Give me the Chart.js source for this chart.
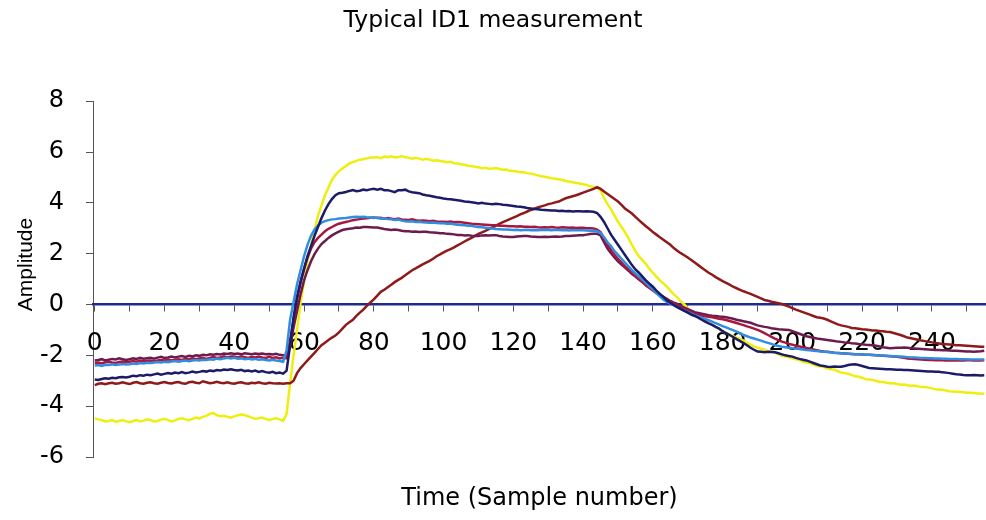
<!DOCTYPE html>
<html><head><meta charset="utf-8">
<script src="https://cdn.jsdelivr.net/npm/chart.js@4/dist/chart.umd.min.js"></script>
<style>html,body{margin:0;padding:0;background:#fff;}#wrap{width:986px;height:520px;}</style>
</head><body><div id="wrap"><canvas id="c" width="986" height="520"></canvas></div>
<script>
// Sample numbers (categories)
const samples = Array.from({length: 256}, (_, i) => i);
const xTickLabels = ["0","20","40","60","80","100","120","140","160","180","200","220","240"];
const yTicks = [-6,-4,-2,0,2,4,6,8];

const yellow = [
-4.48,-4.52,-4.55,-4.6,-4.58,-4.55,-4.62,-4.58,-4.55,-4.6,-4.63,-4.58,-4.55,-4.6,-4.57,-4.52,
-4.55,-4.6,-4.58,-4.53,-4.5,-4.55,-4.6,-4.56,-4.5,-4.48,-4.52,-4.55,-4.5,-4.45,-4.48,-4.42,
-4.38,-4.3,-4.27,-4.35,-4.4,-4.38,-4.42,-4.45,-4.4,-4.36,-4.33,-4.35,-4.4,-4.45,-4.5,-4.47,
-4.45,-4.5,-4.55,-4.5,-4.48,-4.52,-4.58,-4.3,-3.1,-2.0,-1.0,0.05,0.9,1.7,2.3,2.9,
3.5,3.9,4.3,4.6,4.9,5.1,5.25,5.35,5.45,5.55,5.6,5.65,5.7,5.72,5.75,5.78,
5.78,5.8,5.76,5.82,5.8,5.83,5.79,5.8,5.84,5.79,5.78,5.74,5.77,5.74,5.7,5.73,
5.7,5.66,5.68,5.65,5.63,5.6,5.62,5.56,5.55,5.52,5.5,5.46,5.45,5.42,5.4,5.36,
5.38,5.34,5.35,5.37,5.33,5.3,5.31,5.26,5.25,5.23,5.2,5.2,5.17,5.15,5.12,5.08,
5.05,5.03,5.0,4.97,4.95,4.93,4.9,4.86,4.84,4.81,4.78,4.76,4.73,4.7,4.66,4.62,
4.58,4.5,4.2,3.95,3.75,3.5,3.25,3.05,2.85,2.6,2.35,2.1,1.9,1.75,1.6,1.4,
1.25,1.1,0.95,0.83,0.7,0.55,0.4,0.28,0.12,0.0,-0.15,-0.3,-0.4,-0.5,-0.58,-0.66,
-0.72,-0.8,-0.88,-0.96,-1.05,-1.12,-1.18,-1.24,-1.3,-1.35,-1.42,-1.5,-1.58,-1.65,-1.7,-1.74,
-1.78,-1.84,-1.86,-1.88,-1.95,-2.02,-2.05,-2.08,-2.12,-2.15,-2.18,-2.25,-2.28,-2.3,-2.36,-2.42,
-2.43,-2.45,-2.52,-2.55,-2.56,-2.62,-2.68,-2.7,-2.72,-2.78,-2.82,-2.84,-2.88,-2.94,-2.95,-2.97,
-3.0,-3.05,-3.05,-3.08,-3.1,-3.1,-3.13,-3.16,-3.15,-3.18,-3.2,-3.19,-3.22,-3.25,-3.25,-3.27,
-3.3,-3.33,-3.34,-3.35,-3.38,-3.41,-3.42,-3.43,-3.43,-3.45,-3.47,-3.47,-3.48,-3.5,-3.5,-3.51
];

const navy = [
-2.95,-2.97,-2.93,-2.9,-2.92,-2.88,-2.9,-2.86,-2.85,-2.87,-2.84,-2.8,-2.82,-2.78,-2.8,-2.76,
-2.78,-2.75,-2.72,-2.76,-2.73,-2.7,-2.72,-2.68,-2.7,-2.66,-2.7,-2.68,-2.64,-2.67,-2.65,-2.62,
-2.64,-2.6,-2.62,-2.58,-2.6,-2.56,-2.58,-2.55,-2.58,-2.6,-2.57,-2.62,-2.6,-2.63,-2.6,-2.65,
-2.62,-2.66,-2.68,-2.65,-2.7,-2.68,-2.72,-2.6,-1.6,-0.5,0.3,0.9,1.4,1.9,2.3,2.7,
3.05,3.4,3.7,3.95,4.15,4.3,4.38,4.4,4.43,4.47,4.5,4.46,4.48,4.52,4.5,4.53,
4.55,4.52,4.55,4.5,4.5,4.46,4.42,4.5,4.5,4.52,4.45,4.42,4.4,4.38,4.33,4.3,
4.28,4.25,4.22,4.2,4.17,4.15,4.14,4.12,4.1,4.08,4.05,4.04,4.02,4.0,3.98,4.0,
3.97,3.96,3.95,3.96,3.95,3.93,3.92,3.9,3.88,3.86,3.85,3.83,3.8,3.78,3.76,3.75,
3.73,3.72,3.71,3.7,3.7,3.68,3.69,3.67,3.68,3.66,3.67,3.67,3.66,3.67,3.66,3.65,
3.6,3.45,3.25,3.0,2.75,2.55,2.35,2.15,1.95,1.75,1.55,1.38,1.25,1.1,0.95,0.82,
0.7,0.55,0.42,0.3,0.17,0.07,-0.02,-0.1,-0.17,-0.25,-0.32,-0.4,-0.45,-0.52,-0.6,-0.67,
-0.74,-0.8,-0.88,-0.95,-1.05,-1.13,-1.2,-1.28,-1.36,-1.44,-1.52,-1.6,-1.7,-1.78,-1.85,-1.86,
-1.88,-1.86,-1.87,-1.88,-1.92,-1.96,-2.0,-2.03,-2.05,-2.1,-2.14,-2.17,-2.2,-2.25,-2.3,-2.35,
-2.4,-2.42,-2.45,-2.46,-2.44,-2.45,-2.45,-2.42,-2.38,-2.36,-2.35,-2.38,-2.42,-2.46,-2.5,-2.51,
-2.52,-2.53,-2.54,-2.55,-2.55,-2.56,-2.57,-2.57,-2.58,-2.58,-2.59,-2.6,-2.61,-2.62,-2.63,-2.64,
-2.64,-2.65,-2.65,-2.67,-2.68,-2.7,-2.72,-2.74,-2.75,-2.77,-2.78,-2.78,-2.77,-2.78,-2.79,-2.78
];

const brown = [
-3.17,-3.12,-3.1,-3.14,-3.1,-3.08,-3.12,-3.1,-3.06,-3.1,-3.13,-3.08,-3.05,-3.1,-3.12,-3.08,
-3.06,-3.1,-3.12,-3.08,-3.05,-3.09,-3.11,-3.07,-3.05,-3.1,-3.12,-3.06,-3.04,-3.08,-3.1,-3.02,
-3.06,-3.1,-3.08,-3.04,-3.08,-3.1,-3.06,-3.1,-3.12,-3.08,-3.06,-3.1,-3.12,-3.08,-3.1,-3.06,
-3.1,-3.12,-3.08,-3.1,-3.11,-3.1,-3.12,-3.1,-3.1,-3.0,-2.7,-2.5,-2.35,-2.2,-2.05,-1.9,
-1.75,-1.6,-1.5,-1.4,-1.3,-1.22,-1.1,-0.95,-0.8,-0.7,-0.6,-0.45,-0.32,-0.2,-0.05,0.08,
0.2,0.35,0.5,0.58,0.68,0.78,0.88,0.97,1.05,1.15,1.25,1.35,1.42,1.5,1.58,1.65,
1.72,1.8,1.9,1.97,2.05,2.12,2.18,2.25,2.33,2.4,2.48,2.55,2.62,2.7,2.78,2.84,
2.9,2.97,3.03,3.1,3.17,3.24,3.3,3.36,3.42,3.48,3.55,3.6,3.66,3.72,3.77,3.82,
3.86,3.9,3.95,3.98,4.02,4.05,4.12,4.18,4.22,4.26,4.3,4.35,4.4,4.45,4.5,4.55,
4.62,4.55,4.45,4.35,4.25,4.15,4.05,3.92,3.78,3.68,3.58,3.45,3.32,3.2,3.08,2.97,
2.85,2.75,2.65,2.55,2.45,2.35,2.22,2.12,2.02,1.94,1.85,1.75,1.65,1.55,1.45,1.35,
1.25,1.17,1.08,1.0,0.92,0.85,0.78,0.7,0.64,0.58,0.52,0.47,0.42,0.36,0.3,0.24,
0.18,0.15,0.11,0.08,0.05,0.02,-0.03,-0.08,-0.14,-0.2,-0.25,-0.3,-0.35,-0.4,-0.45,-0.5,
-0.52,-0.55,-0.6,-0.66,-0.72,-0.78,-0.82,-0.85,-0.88,-0.92,-0.93,-0.95,-0.97,-0.98,-1.0,-1.02,
-1.02,-1.04,-1.05,-1.07,-1.08,-1.12,-1.16,-1.2,-1.25,-1.3,-1.33,-1.36,-1.39,-1.42,-1.44,-1.47,
-1.49,-1.51,-1.53,-1.55,-1.56,-1.57,-1.58,-1.6,-1.6,-1.61,-1.62,-1.63,-1.64,-1.65,-1.66,-1.66
];

const crimson = [
-2.3,-2.28,-2.32,-2.27,-2.25,-2.28,-2.3,-2.26,-2.24,-2.27,-2.25,-2.22,-2.25,-2.2,-2.23,-2.21,
-2.2,-2.24,-2.2,-2.18,-2.2,-2.16,-2.2,-2.17,-2.15,-2.18,-2.14,-2.16,-2.12,-2.15,-2.12,-2.1,
-2.14,-2.1,-2.06,-2.1,-2.08,-2.04,-2.08,-2.05,-2.05,-2.08,-2.04,-2.07,-2.1,-2.06,-2.08,-2.05,
-2.08,-2.1,-2.06,-2.1,-2.08,-2.12,-2.1,-2.12,-1.4,-0.6,0.2,0.85,1.4,1.85,2.2,2.45,
2.62,2.75,2.88,2.98,3.05,3.12,3.18,3.22,3.25,3.28,3.32,3.34,3.36,3.38,3.39,3.41,
3.42,3.4,3.41,3.38,3.4,3.38,3.36,3.38,3.35,3.34,3.33,3.35,3.32,3.3,3.31,3.3,
3.28,3.3,3.27,3.26,3.26,3.25,3.27,3.24,3.25,3.24,3.22,3.2,3.18,3.17,3.16,3.15,
3.14,3.13,3.12,3.12,3.1,3.1,3.09,3.08,3.08,3.07,3.08,3.06,3.06,3.05,3.06,3.04,
3.03,3.04,3.03,3.05,3.03,3.02,3.04,3.03,3.02,3.03,3.01,3.02,3.02,3.0,3.0,2.99,
2.95,2.85,2.6,2.35,2.15,1.95,1.8,1.65,1.5,1.38,1.25,1.12,1.0,0.9,0.75,0.65,
0.55,0.45,0.37,0.28,0.18,0.11,0.03,-0.05,-0.12,-0.18,-0.25,-0.31,-0.37,-0.4,-0.43,-0.46,
-0.48,-0.5,-0.53,-0.56,-0.58,-0.61,-0.65,-0.69,-0.73,-0.77,-0.81,-0.86,-0.9,-0.95,-1.0,-1.06,
-1.13,-1.2,-1.27,-1.34,-1.4,-1.46,-1.5,-1.55,-1.58,-1.62,-1.65,-1.68,-1.71,-1.74,-1.77,-1.8,
-1.83,-1.85,-1.86,-1.88,-1.9,-1.91,-1.92,-1.93,-1.94,-1.95,-1.96,-1.96,-1.97,-1.98,-1.98,-1.99,
-2.0,-2.01,-2.02,-2.03,-2.04,-2.05,-2.06,-2.08,-2.1,-2.12,-2.13,-2.14,-2.15,-2.16,-2.17,-2.18,
-2.18,-2.19,-2.19,-2.19,-2.2,-2.19,-2.2,-2.19,-2.2,-2.2,-2.19,-2.19,-2.2,-2.19,-2.2,-2.19
];

const lightBlue = [
-2.4,-2.38,-2.42,-2.37,-2.38,-2.35,-2.38,-2.36,-2.34,-2.36,-2.35,-2.32,-2.34,-2.3,-2.32,-2.29,
-2.3,-2.28,-2.26,-2.28,-2.25,-2.27,-2.24,-2.22,-2.25,-2.22,-2.2,-2.23,-2.2,-2.18,-2.2,-2.17,
-2.18,-2.15,-2.17,-2.13,-2.15,-2.12,-2.1,-2.12,-2.1,-2.13,-2.12,-2.15,-2.13,-2.16,-2.14,-2.17,
-2.15,-2.18,-2.2,-2.17,-2.2,-2.22,-2.25,-1.8,-0.6,0.1,0.8,1.35,1.9,2.35,2.7,2.95,
3.1,3.22,3.28,3.32,3.35,3.36,3.38,3.39,3.4,3.42,3.44,3.45,3.44,3.45,3.43,3.42,
3.4,3.42,3.38,3.39,3.36,3.35,3.33,3.34,3.3,3.28,3.27,3.28,3.25,3.26,3.24,3.23,
3.22,3.23,3.21,3.2,3.2,3.18,3.19,3.16,3.14,3.13,3.12,3.1,3.1,3.07,3.05,3.04,
3.02,3.0,2.99,2.97,2.96,2.95,2.95,2.94,2.93,2.94,2.92,2.93,2.94,2.92,2.93,2.92,
2.93,2.94,2.93,2.92,2.94,2.93,2.92,2.93,2.91,2.93,2.92,2.92,2.92,2.91,2.9,2.9,
2.88,2.82,2.65,2.45,2.3,2.1,1.95,1.8,1.65,1.5,1.35,1.22,1.1,0.98,0.85,0.72,
0.6,0.45,0.32,0.2,0.1,0.04,-0.03,-0.1,-0.18,-0.24,-0.3,-0.36,-0.42,-0.47,-0.52,-0.57,
-0.62,-0.67,-0.73,-0.79,-0.85,-0.9,-0.96,-1.01,-1.07,-1.13,-1.2,-1.25,-1.3,-1.34,-1.38,-1.42,
-1.47,-1.51,-1.55,-1.6,-1.63,-1.66,-1.68,-1.7,-1.72,-1.73,-1.75,-1.77,-1.79,-1.8,-1.82,-1.83,
-1.85,-1.86,-1.87,-1.88,-1.9,-1.91,-1.92,-1.93,-1.94,-1.95,-1.96,-1.96,-1.97,-1.98,-1.98,-1.99,
-2.0,-2.01,-2.01,-2.02,-2.03,-2.04,-2.05,-2.05,-2.06,-2.07,-2.08,-2.08,-2.09,-2.1,-2.1,-2.11,
-2.11,-2.12,-2.12,-2.13,-2.13,-2.14,-2.14,-2.14,-2.15,-2.15,-2.15,-2.16,-2.16,-2.16,-2.16,-2.16
];

const purple = [
-2.2,-2.18,-2.15,-2.2,-2.17,-2.14,-2.16,-2.12,-2.15,-2.18,-2.15,-2.12,-2.14,-2.1,-2.13,-2.11,
-2.1,-2.13,-2.09,-2.06,-2.1,-2.08,-2.05,-2.08,-2.05,-2.03,-2.06,-2.02,-2.04,-2.0,-2.02,-1.98,
-2.0,-1.96,-1.98,-1.95,-1.97,-1.93,-1.95,-1.92,-1.95,-1.93,-1.96,-1.92,-1.94,-1.96,-1.93,-1.95,
-1.93,-1.96,-1.95,-1.97,-1.94,-1.98,-2.0,-2.0,-1.7,-0.9,-0.25,0.4,0.95,1.35,1.7,1.98,
2.2,2.38,2.5,2.62,2.72,2.8,2.87,2.93,2.96,2.98,3.0,3.03,3.02,3.05,3.05,3.04,
3.03,3.03,3.0,2.97,2.95,2.93,2.95,2.93,2.9,2.88,2.88,2.86,2.87,2.85,2.86,2.86,
2.84,2.83,2.82,2.8,2.8,2.78,2.77,2.76,2.74,2.74,2.72,2.73,2.71,2.7,2.7,2.72,
2.73,2.72,2.73,2.73,2.7,2.68,2.67,2.66,2.66,2.68,2.69,2.7,2.7,2.68,2.67,2.66,
2.66,2.67,2.66,2.67,2.68,2.67,2.68,2.7,2.7,2.71,2.72,2.73,2.73,2.75,2.77,2.78,
2.78,2.72,2.45,2.2,2.02,1.85,1.7,1.57,1.45,1.33,1.2,1.1,0.98,0.88,0.78,0.7,
0.6,0.5,0.4,0.3,0.22,0.14,0.07,0.02,-0.06,-0.12,-0.18,-0.24,-0.3,-0.33,-0.36,-0.39,
-0.42,-0.44,-0.45,-0.47,-0.48,-0.5,-0.53,-0.56,-0.6,-0.63,-0.66,-0.69,-0.72,-0.77,-0.82,-0.85,
-0.88,-0.9,-0.93,-0.95,-0.97,-0.98,-0.99,-1.0,-1.05,-1.1,-1.15,-1.2,-1.25,-1.28,-1.31,-1.34,
-1.36,-1.38,-1.4,-1.42,-1.44,-1.46,-1.47,-1.49,-1.5,-1.52,-1.53,-1.55,-1.56,-1.58,-1.59,-1.6,
-1.62,-1.65,-1.68,-1.7,-1.72,-1.71,-1.7,-1.7,-1.69,-1.7,-1.72,-1.73,-1.74,-1.75,-1.76,-1.77,
-1.78,-1.79,-1.79,-1.8,-1.8,-1.81,-1.82,-1.82,-1.83,-1.84,-1.85,-1.85,-1.86,-1.85,-1.84,-1.82
];

function ds(label, data, color) {
  return { label, data, borderColor: color, backgroundColor: color, borderWidth: 2.5,
           pointRadius: 0, fill: false, tension: 0 };
}

new Chart(document.getElementById('c'), {
  type: 'line',
  data: {
    labels: samples,
    datasets: [
      ds('Navy', navy, '#1b1b68'),
      ds('Light blue', lightBlue, '#2f8ee0'),
      ds('Crimson', crimson, '#a8183e'),
      ds('Purple', purple, '#6c1c4c'),
      ds('Brown', brown, '#8e1a1a'),
      ds('Yellow', yellow, '#eeee10')
    ]
  },
  options: {
    responsive: false,
    devicePixelRatio: 1,
    animation: false,
    layout: { padding: 0 },
    plugins: {
      legend: { display: false },
      tooltip: { enabled: false },
      title: {
        display: true,
        text: 'Typical ID1 measurement',
        color: '#000',
        font: { family: 'DejaVu Sans', size: 23.5, weight: 'normal' },
        padding: { top: 7, bottom: 66 }
      }
    },
    scales: {
      y: {
        min: -6, max: 8,
        afterBuildTicks: (s) => { s.ticks = yTicks.map(v => ({ value: v })); },
        ticks: { color: '#000', font: { family: 'DejaVu Sans', size: 24 }, padding: 22 },
        grid: { drawOnChartArea: false, drawTicks: true, tickLength: 7, tickColor: '#555' },
        border: { color: '#555', width: 1 },
        title: { display: true, text: '     Amplitude', color: '#000',
                 font: { family: 'Liberation Sans', size: 21 }, padding: { top: 14, bottom: 0 } },
        afterFit: (s) => { s.width = 93; }
      },
      x: {
        type: 'linear', min: -0.5, max: 255.5, position: 'bottom',
        ticks: { display: false },
        grid: { display: false, drawTicks: false },
        border: { display: false },
        title: { display: true, text: 'Time (Sample number)', color: '#000',
                 font: { family: 'DejaVu Sans', size: 24 }, padding: { top: 27, bottom: 6.6 } },
        afterFit: (s) => { s.height = 63; }
      },
      xz: {
        type: 'linear', min: -0.5, max: 255.5, position: { y: 0 }, z: 1,
        ticks: {
          stepSize: 10, includeBounds: false, autoSkip: false, maxRotation: 0,
          color: '#000', font: { family: 'DejaVu Sans', size: 25 }, padding: 18,
          callback: (v) => { const s = String(v); return xTickLabels.includes(s) ? s : ''; }
        },
        grid: { drawOnChartArea: false, drawTicks: true, tickLength: 6, tickColor: '#555' },
        border: { color: '#1f2a8f', width: 2.5 }
      }
    }
  }
});
</script>
</body></html>
